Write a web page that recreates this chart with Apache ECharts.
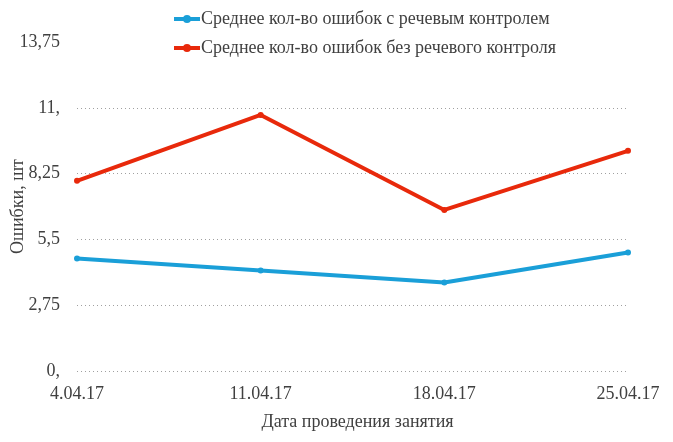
<!DOCTYPE html>
<html>
<head>
<meta charset="utf-8">
<script src="https://cdn.jsdelivr.net/npm/echarts@6/dist/echarts.min.js"></script>
<style>
html,body{margin:0;padding:0;background:#fff;}
#chart{width:673px;height:442px;}
</style>
</head>
<body>
<div id="chart"></div>
<script>
const categories = ['4.04.17', '11.04.17', '18.04.17', '25.04.17'];
const withControl = [4.7, 4.2, 3.7, 4.95];
const withoutControl = [7.95, 10.7, 6.73, 9.2];
const yTickLabels = ['0,', '2,75', '5,5', '8,25', '11,', '13,75'];
const seriesNames = ['Среднее кол-во ошибок с речевым контролем', 'Среднее кол-во ошибок без речевого контроля'];
const yAxisName = 'Ошибки, шт';
const xAxisName = 'Дата проведения занятия';

const FONT = 'Liberation Serif';
const TXT = '#404040';
const chart = echarts.init(document.getElementById('chart'), null, {renderer: 'canvas'});
chart.setOption({
  animation: false,
  backgroundColor: '#fff',
  textStyle: {fontFamily: FONT},
  legend: {
    orient: 'vertical',
    left: 172,
    top: 10,
    padding: 0,
    itemWidth: 26,
    itemHeight: 10,
    itemGap: 11,
    lineStyle: {width: 4},
    textStyle: {fontFamily: FONT, fontSize: 18, color: TXT, padding: [0, 0, 0, -4]},
    data: seriesNames
  },
  grid: {left: 77, right: 45, top: 42, bottom: 71, containLabel: false, outerBoundsMode: 'none'},
  xAxis: {
    type: 'category',
    data: categories,
    boundaryGap: false,
    axisLine: {show: false},
    axisTick: {show: false},
    axisLabel: {fontFamily: FONT, fontSize: 18, color: TXT, margin: 14},
    name: xAxisName,
    nameLocation: 'middle',
    nameGap: 42,
    nameMoveOverlap: false,
    nameTextStyle: {fontFamily: FONT, fontSize: 18, color: TXT, padding: [0, 0, 0, 10]}
  },
  yAxis: {
    type: 'value',
    min: 0,
    max: 13.75,
    interval: 2.75,
    axisLine: {show: false},
    axisTick: {show: false},
    axisLabel: {
      fontFamily: FONT, fontSize: 18, color: TXT, margin: 17,
      padding: [4, 0, 0, 0],
      formatter: (v) => yTickLabels[Math.round(v / 2.75)]
    },
    splitLine: {show: true, showMaxLine: false, lineStyle: {color: '#a0a0a0', type: [1, 3], width: 1}},
    name: yAxisName,
    nameLocation: 'middle',
    nameGap: 50,
    nameMoveOverlap: false,
    nameTextStyle: {fontFamily: FONT, fontSize: 18, color: TXT}
  },
  series: [
    {
      name: seriesNames[0], type: 'line', data: withControl,
      symbol: 'circle', symbolSize: 6,
      lineStyle: {color: '#1a9fd8', width: 4},
      itemStyle: {color: '#1a9fd8'}
    },
    {
      name: seriesNames[1], type: 'line', data: withoutControl,
      symbol: 'circle', symbolSize: 6,
      lineStyle: {color: '#e8290b', width: 4},
      itemStyle: {color: '#e8290b'}
    }
  ]
});
</script>
</body>
</html>
